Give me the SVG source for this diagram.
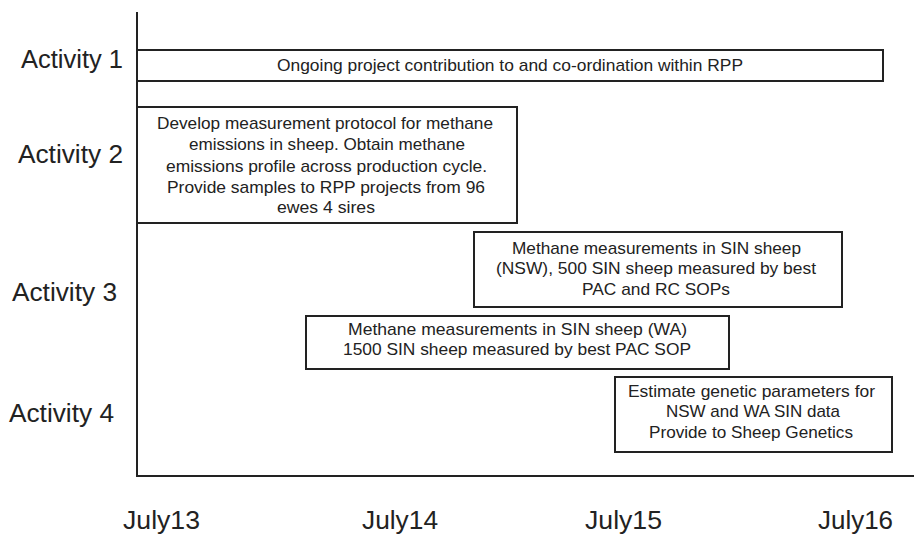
<svg xmlns="http://www.w3.org/2000/svg" width="914" height="538" viewBox="0 0 914 538">
<style>
.box{fill:#fff;stroke:#222;stroke-width:2}
.axis{fill:none;stroke:#222;stroke-width:2}
.t{font-family:"Liberation Sans",Arial,sans-serif;font-size:17px;fill:#222}
.lab{font-family:"Liberation Sans",Arial,sans-serif;font-size:25px;fill:#222}
</style>
<rect width="914" height="538" fill="#fff"/>
<g id="axes">
<path class="axis" d="M137,12 V476 H914"/>
</g>
<g id="labels">
<text class="lab" x="21" y="68" textLength="102" lengthAdjust="spacingAndGlyphs">Activity  1</text>
<text class="lab" x="18" y="163" textLength="105" lengthAdjust="spacingAndGlyphs">Activity  2</text>
<text class="lab" x="12" y="301" textLength="105" lengthAdjust="spacingAndGlyphs">Activity  3</text>
<text class="lab" x="9" y="422" textLength="105" lengthAdjust="spacingAndGlyphs">Activity  4</text>
<text class="lab" x="123" y="529" textLength="77" lengthAdjust="spacingAndGlyphs">July13</text>
<text class="lab" x="362" y="529" textLength="76" lengthAdjust="spacingAndGlyphs">July14</text>
<text class="lab" x="585" y="529" textLength="77" lengthAdjust="spacingAndGlyphs">July15</text>
<text class="lab" x="818" y="529" textLength="75" lengthAdjust="spacingAndGlyphs">July16</text>
</g>
<g id="act1">
<rect class="box" x="137" y="50" width="746" height="31"/>
<text class="t" x="277" y="71" textLength="466" lengthAdjust="spacingAndGlyphs">Ongoing project  contribution  to and co-ordination  within RPP</text>
</g>
<g id="act2">
<rect class="box" x="137" y="107" width="380" height="116"/>
<text class="t" x="157" y="129" textLength="336" lengthAdjust="spacingAndGlyphs">Develop measurement  protocol for methane</text>
<text class="t" x="189" y="150" textLength="276" lengthAdjust="spacingAndGlyphs">emissions  in sheep. Obtain methane</text>
<text class="t" x="166" y="172" textLength="321" lengthAdjust="spacingAndGlyphs">emissions  profile across production  cycle.</text>
<text class="t" x="167" y="193" textLength="318" lengthAdjust="spacingAndGlyphs">Provide  samples to RPP projects from 96</text>
<text class="t" x="277" y="213" textLength="98" lengthAdjust="spacingAndGlyphs">ewes  4 sires</text>
</g>
<g id="act3a">
<rect class="box" x="474" y="232" width="368" height="75"/>
<text class="t" x="512" y="254" textLength="289" lengthAdjust="spacingAndGlyphs">Methane  measurements  in SIN sheep</text>
<text class="t" x="496" y="274" textLength="320" lengthAdjust="spacingAndGlyphs">(NSW), 500 SIN sheep  measured  by  best</text>
<text class="t" x="582" y="295" textLength="148" lengthAdjust="spacingAndGlyphs">PAC and  RC SOPs</text>
</g>
<g id="act3b">
<rect class="box" x="306" y="316" width="423" height="53"/>
<text class="t" x="348" y="335" textLength="339" lengthAdjust="spacingAndGlyphs">Methane  measurements  in SIN sheep  (WA)</text>
<text class="t" x="343" y="355" textLength="348" lengthAdjust="spacingAndGlyphs">1500  SIN sheep  measured  by  best PAC SOP</text>
</g>
<g id="act4">
<rect class="box" x="615" y="377" width="277" height="75"/>
<text class="t" x="628" y="397" textLength="247" lengthAdjust="spacingAndGlyphs">Estimate  genetic parameters  for</text>
<text class="t" x="666" y="417" textLength="174" lengthAdjust="spacingAndGlyphs">NSW and  WA SIN data</text>
<text class="t" x="649" y="438" textLength="204" lengthAdjust="spacingAndGlyphs">Provide  to  Sheep  Genetics</text>
</g>
</svg>
